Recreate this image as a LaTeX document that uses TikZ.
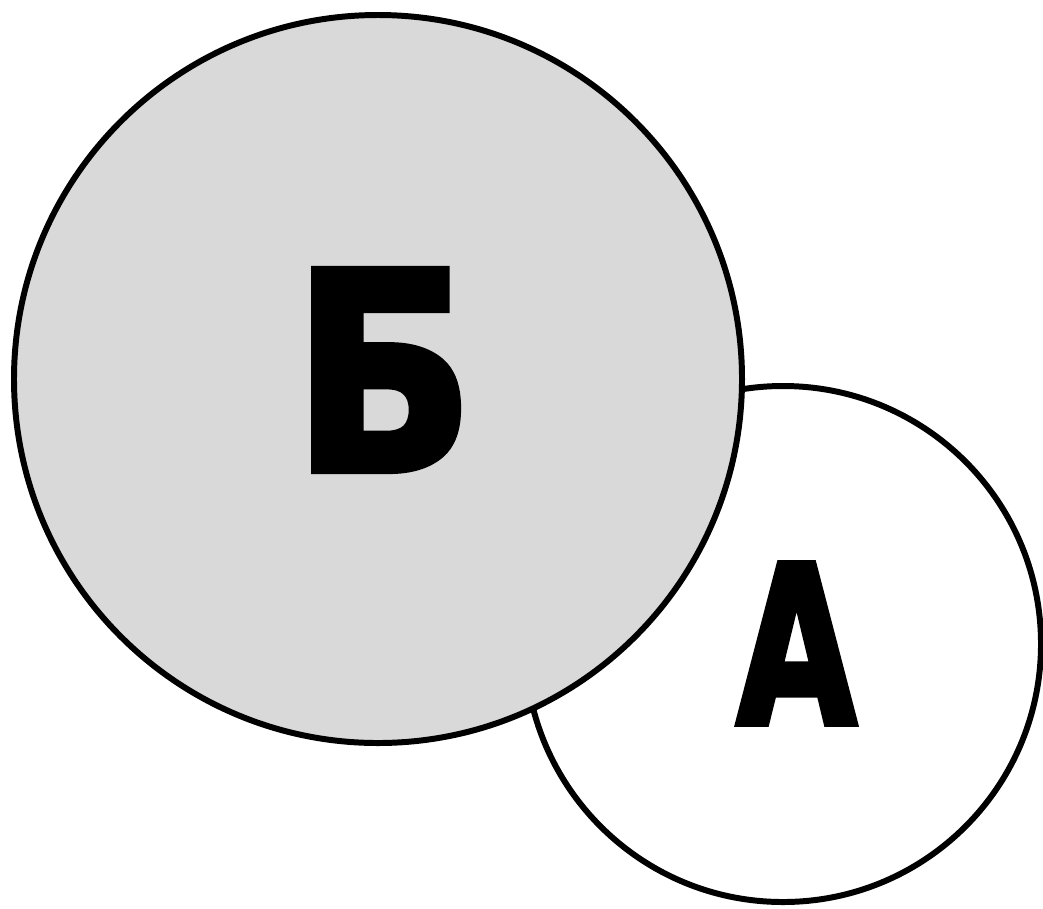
\documentclass[tikz,border=0pt]{standalone}
\usepackage{fontspec}
\newfontfamily\heavyfont[FakeBold=3]{DejaVu Sans Condensed Bold}
\begin{document}
\begin{tikzpicture}[
  disc/.style={circle, draw, line width=1.7pt, inner sep=0pt},
  letter/.style={inner sep=0pt, font=\heavyfont}]
  \useasboundingbox (0,0) rectangle (10.43,9.08);
  \node[disc, fill=white, minimum size=5.16cm] (sa) at (7.83,2.64) {};
  \node[disc, fill=black!15, minimum size=7.28cm] (sb) at (3.78,5.29) {};
  \node[letter, xscale=0.96] (lb) at (3.835,5.38) {\fontsize{78}{78}\selectfont Б};
  \node[letter, xscale=0.78] (la) at (7.965,2.645) {\fontsize{62.5}{62.5}\selectfont А};
\end{tikzpicture}
\end{document}
